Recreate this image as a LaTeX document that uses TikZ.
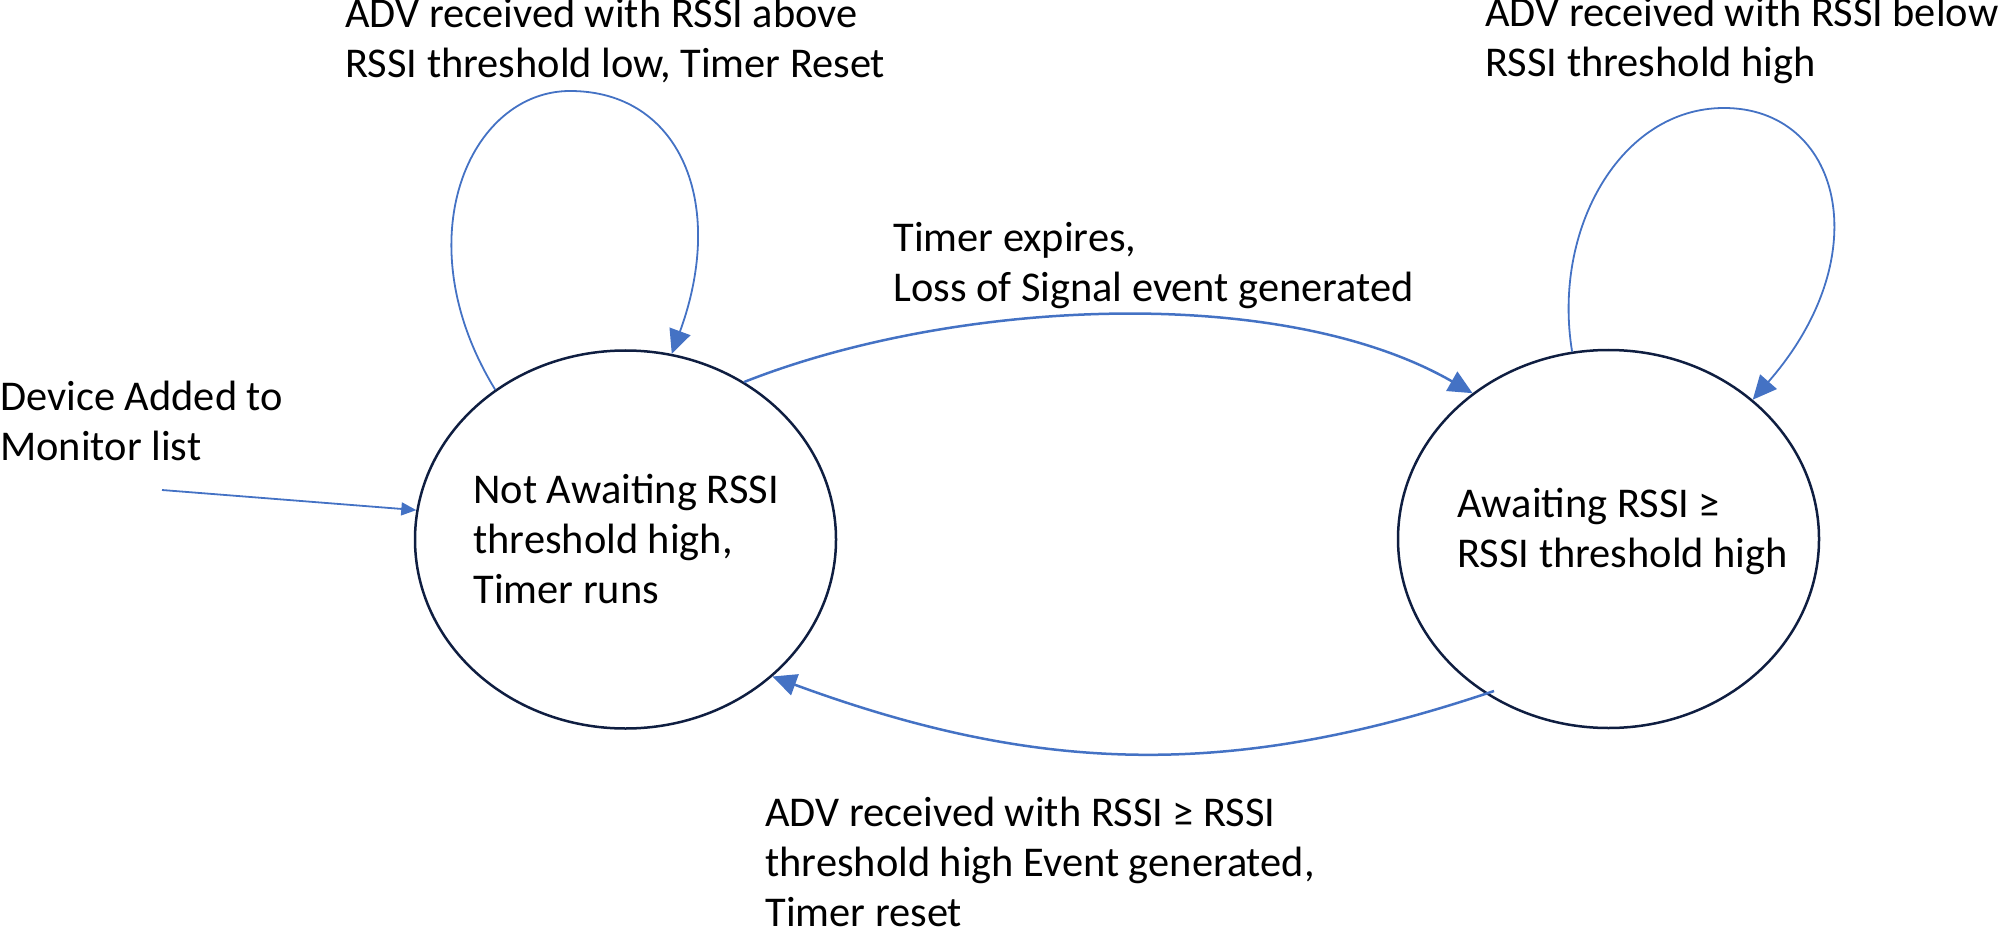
\documentclass[tikz,border=0pt]{standalone}
\usepackage{fontspec}
\setmainfont{Carlito}
\usetikzlibrary{arrows.meta,shapes.geometric,calc}
\definecolor{arrowblue}{RGB}{68,114,196}
\definecolor{navy}{RGB}{15,30,65}
\begin{document}
\begin{tikzpicture}[x=0.5pt,y=-0.5pt,
  stateshape/.style={ellipse, draw=navy, line width=1.25pt, minimum width=210.5pt, minimum height=189pt, inner sep=0pt},
  statetext/.style={anchor=base west, align=left, inner sep=0pt, font=\fontsize{21.2}{25}\selectfont},
  lbl/.style={anchor=base west, align=left, inner sep=0pt, font=\fontsize{21.2}{25}\selectfont},
  trans/.style={draw=arrowblue, line width=1.25pt, -{Triangle[length=12pt,width=11pt]}},
  loopedge/.style={trans, line width=0.9pt},
  inedge/.style={draw=arrowblue, line width=0.9pt, -{Triangle[length=7.5pt,width=6.5pt]}}
]
\useasboundingbox (0,0) rectangle (2000,930);

% states
\node[stateshape] (L) at (625.5,539.5) {};
\node[stateshape] (R) at (1608.5,539) {};
% base anchor = baseline of the last line
\node[statetext] (Lt) at (473,603) {Not Awaiting RSSI\\threshold high,\\Timer runs};
\node[statetext] (Rt) at (1457,567) {Awaiting RSSI ≥\\RSSI threshold high};

% labels
\node[lbl] (lblA) at (345,78) {ADV received with RSSI above\\RSSI threshold low, Timer Reset};
\node[lbl] (lblB) at (1485,77) {ADV received with RSSI below\\RSSI threshold high};
\node[lbl] (lblC) at (893,302) {Timer expires,\\Loss of Signal event generated};
\node[lbl] (lblD) at (0,460) {Device Added to\\Monitor list};
\node[lbl] (lblE) at (765,926) {ADV received with RSSI ≥ RSSI\\threshold high Event generated,\\Timer reset};

% initial arrow
\coordinate (devstart) at (162,490);
\draw[inedge] (devstart) -- (L.172);

% self loops
\draw[loopedge] (L.131) .. controls (403,239) and (470,91) .. (570,91)
                        .. controls (680,91) and (727,203) .. (L.76);
\draw[loopedge] (R.101) .. controls (1552,230) and (1620,108) .. (1724,108)
                        .. controls (1840,108) and (1880,254) .. (R.44);

% transitions
\draw[trans] (L.53) .. controls (954,299) and (1281,283) .. (R.133);
\draw[trans] ($(R.center)+(-114.5,152)$) .. controls (1228,781) and (1035,773) .. (L.-43);
\end{tikzpicture}
\end{document}
